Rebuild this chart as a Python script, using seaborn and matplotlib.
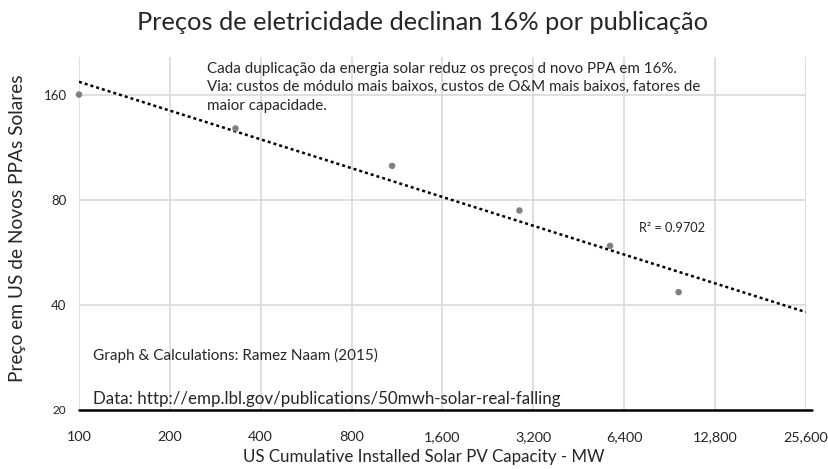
import numpy as np
import pandas as pd
import matplotlib
matplotlib.use("Agg")
import matplotlib.pyplot as plt
from matplotlib.ticker import FixedLocator, NullLocator
import seaborn as sns

# dados (MW acumulados vs preco do PPA)
capacidade_mw = [100, 330, 1090, 2880, 5750, 9700]
preco_ppa = [160, 128, 100, 74.5, 59, 43.5]
x_ticks = [100, 200, 400, 800, 1600, 3200, 6400, 12800, 25600]
x_tick_labels = ["100", "200", "400", "800", "1,600", "3,200", "6,400", "12,800", "25,600"]
y_ticks = [20, 40, 80, 160]
y_tick_labels = ["20", "40", "80", "160"]

titulo = "Preços de eletricidade declinan 16% por publicação"
nota = ("Cada duplicação da energia solar reduz os preços d novo PPA em 16%.\n"
        "Via: custos de módulo mais baixos, custos de O&M mais baixos, fatores de\n"
        "maior capacidade.")
r2_texto = "R² = 0.9702"

sns.set_style("white")
plt.rcParams['font.family'] = ['Lato', 'DejaVu Sans']

df = pd.DataFrame({"mw": capacidade_mw, "preco": preco_ppa})

fig = plt.figure(figsize=(8.29, 4.69), dpi=100)
ax = fig.add_axes([0.0953, 0.1258, 0.8767, 0.7527])

ax.set_xscale("log")
ax.set_yscale("log")
ax.set_xlim(100, 25600)
ax.set_ylim(20, 205)

# grade
for xv in x_ticks:
    ax.axvline(xv, color="#d9d9d9", lw=1.2, zorder=0)
for yv in y_ticks[1:]:
    ax.axhline(yv, color="#d9d9d9", lw=1.2, zorder=0)

# linha de tendencia (ajuste de potencia)
coef = np.polyfit(np.log(df["mw"]), np.log(df["preco"]), 1)
xs = np.array([x_ticks[0], x_ticks[-1]], dtype=float)
ys = np.exp(np.polyval(coef, np.log(xs)))
ax.plot(xs, ys, color="black", lw=1.8, linestyle=(0, (1.2, 1.2)), zorder=2)

sns.scatterplot(data=df, x="mw", y="preco", ax=ax, color="#808080",
                s=22, edgecolor="none", zorder=3, clip_on=False)

ax.xaxis.set_major_locator(FixedLocator(x_ticks))
ax.xaxis.set_minor_locator(NullLocator())
ax.set_xticklabels(x_tick_labels, fontsize=10.4)
ax.yaxis.set_major_locator(FixedLocator(y_ticks))
ax.yaxis.set_minor_locator(NullLocator())
ax.set_yticklabels(y_tick_labels, fontsize=9.5)
ax.get_yticklabels()[0].set_fontsize(8.5)
ax.tick_params(axis="x", length=0, pad=15)
ax.tick_params(axis="y", length=6, color="#d9d9d9", pad=3)

for s in ["top", "right", "left", "bottom"]:
    ax.spines[s].set_visible(False)
ax.plot([0, 1.008], [0, 0], transform=ax.transAxes, color="black",
        lw=1.8, clip_on=False, zorder=4)

ax.set_xlabel("US Cumulative Installed Solar PV Capacity - MW", fontsize=12.2, va="center")
ax.xaxis.set_label_coords(0.475, -0.133)
ax.set_ylabel("Preço em US de Novos PPAs Solares", fontsize=13.8)
ax.yaxis.set_label_coords(-0.073, 0.516)
fig.text(0.51, 0.953, titulo, fontsize=18.3, ha="center", va="center")

ax.text(0.176, 0.987, nota, transform=ax.transAxes, fontsize=10.9,
        va="top", ha="left", linespacing=1.42)
ax.text(0.77, 0.515, r2_texto, transform=ax.transAxes, fontsize=9.2,
        va="center", ha="left")
ax.text(0.019, 0.155, "Graph & Calculations: Ramez Naam (2015)", transform=ax.transAxes,
        fontsize=11, va="center", ha="left")
ax.text(0.019, 0.03, "Data: http://emp.lbl.gov/publications/50mwh-solar-real-falling",
        transform=ax.transAxes, fontsize=12.2, va="center", ha="left")

fig.savefig("out.png", dpi=100)
